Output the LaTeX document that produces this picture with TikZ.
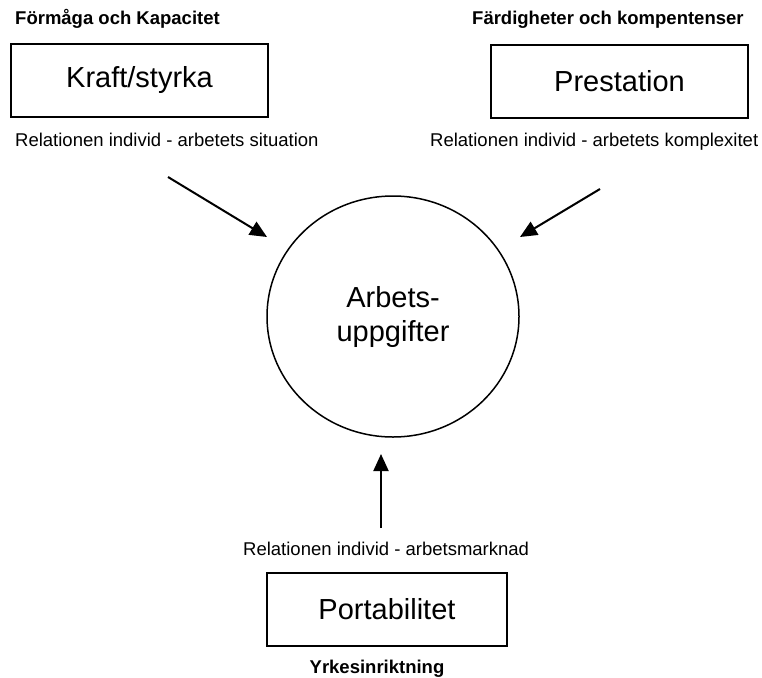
\documentclass[tikz,border=0pt]{standalone}
\usepackage{fontspec}
\setmainfont{Liberation Sans}
\usetikzlibrary{arrows.meta,shapes.geometric}

\tikzset{
  box/.style={draw, line width=1.3pt, minimum width=257pt, minimum height=73pt,
    inner sep=0pt, font=\fontsize{29}{34}\selectfont},
  hub/.style={draw, ellipse, line width=1.5pt, minimum width=252pt, minimum height=241pt,
    inner sep=0pt, align=center, font=\fontsize{29}{34}\selectfont},
  caption/.style={inner sep=0pt, font=\fontsize{18.5}{22}\selectfont},
  heading/.style={inner sep=0pt, font=\fontsize{18.5}{22}\selectfont\bfseries},
  flow/.style={line width=2pt, -{Triangle[length=17pt,width=15pt]}}
}

\begin{document}
\begin{tikzpicture}[x=1pt,y=-1pt]
  \useasboundingbox (0,0) rectangle (762,677);

  % top left: capacity
  \node[heading, anchor=base west] (h1) at (15,25) {Förmåga och Kapacitet};
  \node[box] (kraft) at (139.5,80.5) {Kraft/styrka};
  \node[caption, anchor=base west] (c1) at (15,146) {Relationen individ - arbetets situation};

  % top right: skills
  \node[heading, anchor=base west] (h2) at (472,25) {Färdigheter och kompentenser};
  \node[box] (prest) at (619.5,81.5) {Prestation};
  \node[caption, anchor=base west] (c2) at (430,146) {Relationen individ - arbetets komplexitet};

  % centre: work tasks
  \node[hub] (tasks) at (393,316.5) {Arbets-\\uppgifter};

  % bottom: portability
  \node[caption, anchor=base west] (c3) at (243,555) {Relationen individ - arbetsmarknad};
  \node[box, minimum width=240pt] (port) at (387,609.5) {Portabilitet};
  \node[heading, anchor=base] (h3) at (377,673) {Yrkesinriktning};

  % arrows towards the tasks
  \coordinate (a1s) at (168,177);
  \coordinate (a1e) at (267,237);
  \coordinate (a2s) at (600,189);
  \coordinate (a2e) at (520,237);
  \coordinate (a3s) at (381,528);
  \coordinate (a3e) at (381,454);
  \draw[flow] (a1s) -- (a1e);
  \draw[flow] (a2s) -- (a2e);
  \draw[flow] (a3s) -- (a3e);
\end{tikzpicture}
\end{document}
